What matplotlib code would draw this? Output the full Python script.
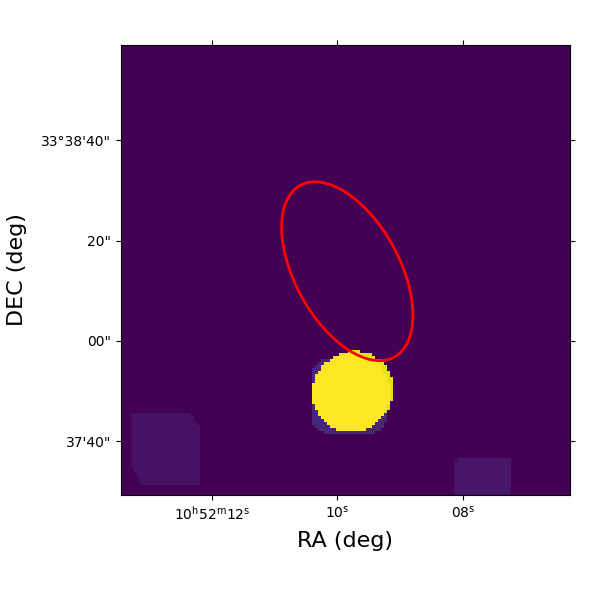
import numpy as np
import matplotlib
matplotlib.use("Agg")
import matplotlib.pyplot as plt
from matplotlib.patches import Ellipse
from matplotlib.path import Path

# offsets in arcsec from RA 10h52m10s, Dec +33d38m00s (x grows westward)
dec0 = 33 + 38 / 60
ra_scale = 15 * np.cos(np.radians(dec0))  # arcsec per RA second

ra_tick_sec = [12, 10, 8]
ra_tick_labels = [r'10$^{\rm h}$52$^{\rm m}$12$^{\rm s}$', r'10$^{\rm s}$', r'08$^{\rm s}$']
dec_tick_arcsec = [40, 20, 0, -20]
dec_tick_labels = ['33°38\'40"', '20"', '00"', '37\'40"']

x_limits = [-43.1, 46.3]
y_limits = [-30.7, 59.0]

# bright source (two overlapping disks) and faint halo: x, y, radius, level
source_main = [2.6, -10.4, 7.8, 1.0]
source_edge = [3.3, -9.8, 7.8, 0.95]
source_halo = [2.23, -11.06, 7.67, 0.11]

# faint corner regions: polygon vertices (x, y) and level
patch_left_x = [-41.1, -29.5, -27.5, -27.5, -39.0, -41.1]
patch_left_y = [-14.4, -14.4, -17.1, -28.9, -28.9, -24.9]
patch_left_level = 0.05
patch_right_x = [23.3, 23.8, 34.6, 34.6, 23.3]
patch_right_y = [-23.9, -23.4, -23.4, -32.0, -32.0]
patch_right_level = 0.06

# extraction ellipse: center x, y, width, height, angle
ell_x, ell_y = 1.97, 13.9
ell_w, ell_h, ell_angle = 39.0, 20.8, -61.4

pix = 0.6
gx = np.arange(-46, 49, pix)
gy = np.arange(-33, 62, pix)
X, Y = np.meshgrid(gx + pix / 2, gy + pix / 2)
img = np.zeros_like(X)

for px_, py_, lev in [(patch_left_x, patch_left_y, patch_left_level),
                      (patch_right_x, patch_right_y, patch_right_level)]:
    path = Path(np.column_stack([px_, py_]))
    inside = path.contains_points(np.column_stack([X.ravel(), Y.ravel()])).reshape(X.shape)
    img[inside] = lev

# halo is a rounded square
hx, hy, hr, hl = source_halo
halo = (np.abs(X - hx) / hr) ** 4 + (np.abs(Y - hy) / hr) ** 4 <= 1
img[halo] = hl
for cx, cy, r, lev in [source_edge, source_main]:
    img[(X - cx) ** 2 + (Y - cy) ** 2 <= r ** 2] = lev

fig = plt.figure(figsize=(6, 6), dpi=100)
ax = fig.add_axes([0.2012, 0.175, 0.749, 0.75])
ax.imshow(img, origin='lower', cmap='viridis', vmin=0, vmax=1,
          interpolation='nearest', extent=[gx[0], gx[-1] + pix, gy[0], gy[-1] + pix],
          aspect='auto')
ax.add_patch(Ellipse((ell_x, ell_y), ell_w, ell_h, angle=ell_angle,
                     fill=False, edgecolor='red', linewidth=2))

ax.set_xlim(x_limits)
ax.set_ylim(y_limits)
ax.set_xticks([(10 - s) * ra_scale for s in ra_tick_sec])
ax.set_xticklabels(ra_tick_labels)
ax.set_yticks(dec_tick_arcsec)
ax.set_yticklabels(dec_tick_labels)
ax.tick_params(top=True, right=True, direction='out', labelsize=10)
ax.set_xlabel('RA (deg)', fontsize=16, labelpad=6)
ax.set_ylabel('DEC (deg)', fontsize=16, labelpad=10)

fig.savefig('out.png', dpi=100)
